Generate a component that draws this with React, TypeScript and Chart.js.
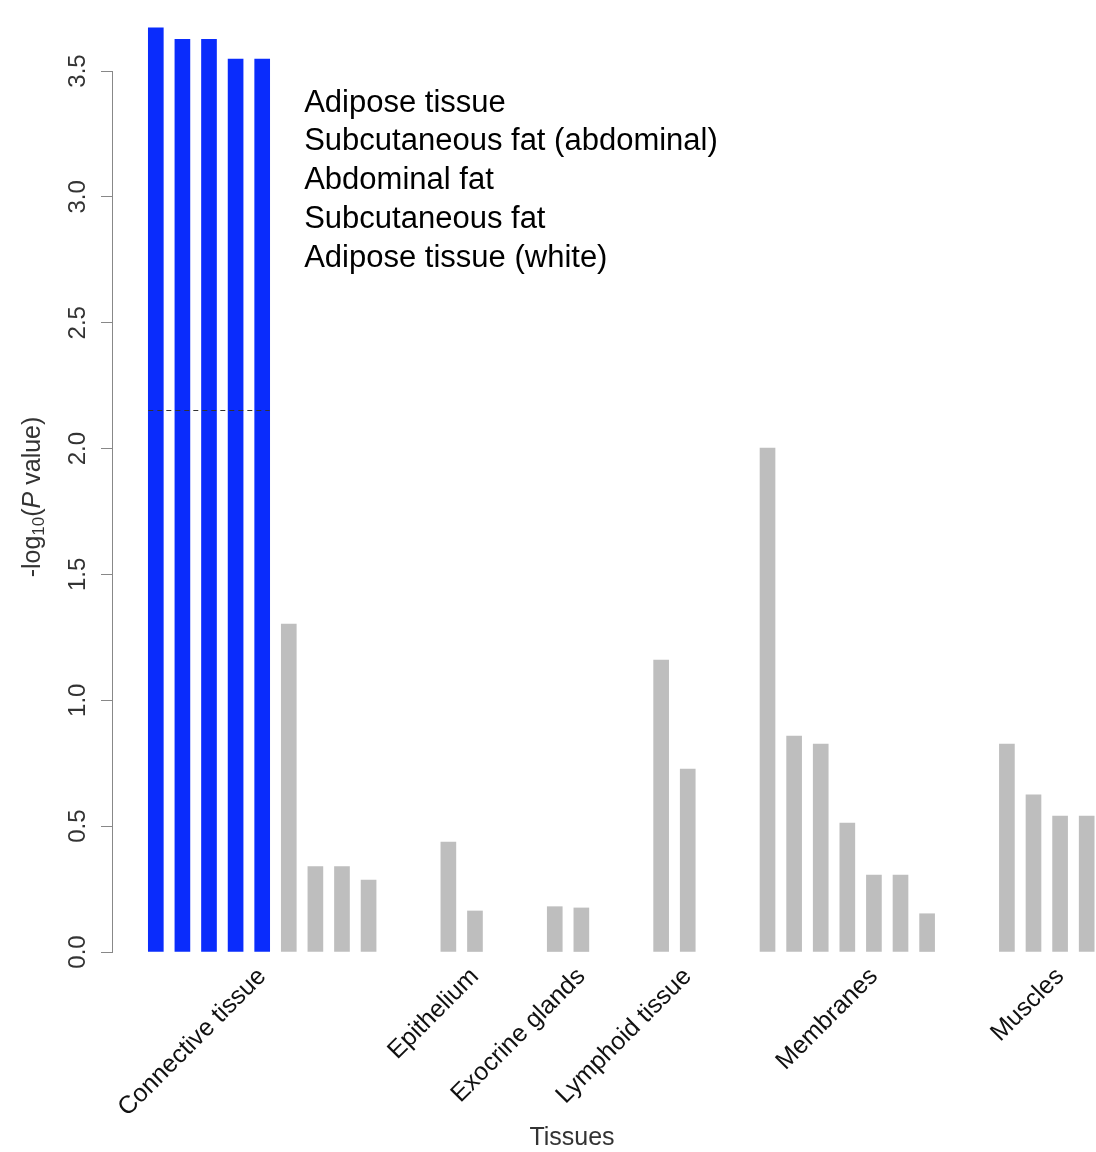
import React, { useEffect, useRef } from "react";
import { Chart, registerables } from "chart.js";

Chart.register(...registerables);

// ---- data ----
const groupNames = [
  "Connective tissue",
  "Epithelium",
  "Exocrine glands",
  "Lymphoid tissue",
  "Membranes",
  "Muscles",
];
const connectiveTissue = [3.672, 3.626, 3.626, 3.547, 3.547, 1.303, 0.339, 0.339, 0.286];
const epithelium = [0.437, 0.163];
const exocrineGlands = [0.18, 0.175];
const lymphoidTissue = [1.16, 0.727];
const membranes = [2.002, 0.858, 0.826, 0.512, 0.306, 0.306, 0.152];
const muscles = [0.826, 0.624, 0.54, 0.54];
const groupValues = [connectiveTissue, epithelium, exocrineGlands, lymphoidTissue, membranes, muscles];
// which bar inside each group carries the group's axis label
const labelBarIndex = [4, 1, 1, 1, 4, 2];
const significantCount = 5;
const significantTissues = [
  "Adipose tissue",
  "Subcutaneous fat (abdominal)",
  "Abdominal fat",
  "Subcutaneous fat",
  "Adipose tissue (white)",
];
const thresholdValue = 2.153;
const yTickStep = 0.5;
const yMax = 3.5;
const groupGap = 2;

// ---- derived table ----
type Pt = { x: number; y: number };
const points: Pt[] = [];
const labelSlots: number[] = [];
let slot = 0;
groupValues.forEach((vals, gi) => {
  labelSlots.push(slot + labelBarIndex[gi]);
  vals.forEach((v) => {
    points.push({ x: slot, y: v });
    slot += 1;
  });
  slot += groupGap;
});

const BLUE = "#0a2cfc";
const GRAY = "#bebebe";
const FONT = "'Liberation Sans', Arial, Helvetica, sans-serif";

export default function App() {
  const ref = useRef<HTMLCanvasElement | null>(null);

  useEffect(() => {
    const canvas = ref.current;
    if (!canvas) return;

    const overlay = {
      id: "overlay",
      afterDatasetsDraw(chart: any) {
        const ctx = chart.ctx as CanvasRenderingContext2D;
        const xs = chart.scales.x;
        const ys = chart.scales.y;
        const half = 7.5;
        const x0 = xs.getPixelForValue(points[0].x) - half;
        const x1 = xs.getPixelForValue(points[significantCount - 1].x) + half;
        const yT = ys.getPixelForValue(thresholdValue);
        ctx.save();
        ctx.strokeStyle = "#333";
        ctx.lineWidth = 1;
        ctx.setLineDash([5, 4]);
        ctx.beginPath();
        ctx.moveTo(x0, Math.round(yT) + 0.5);
        ctx.lineTo(x1, Math.round(yT) + 0.5);
        ctx.stroke();
        ctx.restore();
      },
      afterDraw(chart: any) {
        const ctx = chart.ctx as CanvasRenderingContext2D;
        const xs = chart.scales.x;
        const ys = chart.scales.y;
        ctx.save();
        // y tick labels, rotated
        ctx.fillStyle = "#333";
        ctx.font = `24px ${FONT}`;
        ctx.textAlign = "center";
        ctx.textBaseline = "middle";
        ys.ticks.forEach((t: any) => {
          const py = ys.getPixelForValue(t.value);
          ctx.save();
          ctx.translate(78, py);
          ctx.rotate(-Math.PI / 2);
          ctx.fillText(Number(t.value).toFixed(1), 0, 0);
          ctx.restore();
        });

        // y title with subscript and italic P
        const parts = [
          { t: "-log", f: `25px ${FONT}`, dy: 0 },
          { t: "10", f: `17px ${FONT}`, dy: 6 },
          { t: "(", f: `25px ${FONT}`, dy: 0 },
          { t: "P", f: `italic 25px ${FONT}`, dy: 0 },
          { t: " value)", f: `25px ${FONT}`, dy: 0 },
        ];
        let total = 0;
        parts.forEach((p) => {
          ctx.font = p.f;
          total += ctx.measureText(p.t).width;
        });
        ctx.save();
        ctx.translate(33, 497);
        ctx.rotate(-Math.PI / 2);
        ctx.textAlign = "left";
        ctx.textBaseline = "middle";
        let cx = -total / 2;
        parts.forEach((p) => {
          ctx.font = p.f;
          ctx.fillText(p.t, cx, p.dy);
          cx += ctx.measureText(p.t).width;
        });
        ctx.restore();

        // x title
        ctx.fillStyle = "#333";
        ctx.font = `25px ${FONT}`;
        ctx.textAlign = "center";
        ctx.textBaseline = "middle";
        ctx.fillText("Tissues", 572, 1138);

        // annotation list of significant tissues
        ctx.fillStyle = "#000";
        ctx.font = `31px ${FONT}`;
        ctx.textAlign = "left";
        ctx.textBaseline = "middle";
        const ax = xs.getPixelForValue(points[significantCount - 1].x) + 42;
        significantTissues.forEach((s, i) => {
          ctx.fillText(s, ax, 103 + i * 38.8);
        });
        ctx.restore();
      },
    };

    const chart = new Chart(canvas, {
      type: "bar",
      data: {
        datasets: [
          {
            data: points as any,
            backgroundColor: points.map((_, i) => (i < significantCount ? BLUE : GRAY)),
            borderWidth: 0,
            barThickness: 15,
            clip: false as any,
          },
        ],
      },
      options: {
        animation: false,
        responsive: false,
        maintainAspectRatio: false,
        devicePixelRatio: 1,
        layout: { padding: { top: 71, left: 0, right: 0, bottom: 0 } },
        plugins: { legend: { display: false }, tooltip: { enabled: false } },
        scales: {
          x: {
            type: "linear",
            min: -1.647,
            max: 35.35,
            offset: false,
            grid: { display: false, offset: false },
            border: { display: false },
            afterBuildTicks: (s: any) => {
              s.ticks = labelSlots.map((v) => ({ value: v }));
            },
            afterFit: (s: any) => {
              s.height = 200;
            },
            ticks: {
              autoSkip: false,
              minRotation: 45,
              maxRotation: 45,
              padding: 2,
              color: "#111",
              font: { family: FONT, size: 25 },
              callback: (v: any) => {
                const i = labelSlots.indexOf(Number(v));
                return i >= 0 ? groupNames[i] : "";
              },
            },
          },
          y: {
            min: 0,
            max: yMax,
            ticks: { stepSize: yTickStep, display: false },
            grid: { drawOnChartArea: false, tickLength: 11, color: "#888", lineWidth: 1 },
            border: { color: "#888", width: 1 },
            afterFit: (s: any) => {
              s.width = 112;
            },
          },
        },
      },
      plugins: [overlay],
    });
    return () => chart.destroy();
  }, []);

  return (
    <div style={{ position: "absolute", left: 0, top: 0, width: 1096, height: 1152, background: "#fff" }}>
      <canvas ref={ref} width={1096} height={1152} style={{ width: 1096, height: 1152, display: "block" }} />
    </div>
  );
}
